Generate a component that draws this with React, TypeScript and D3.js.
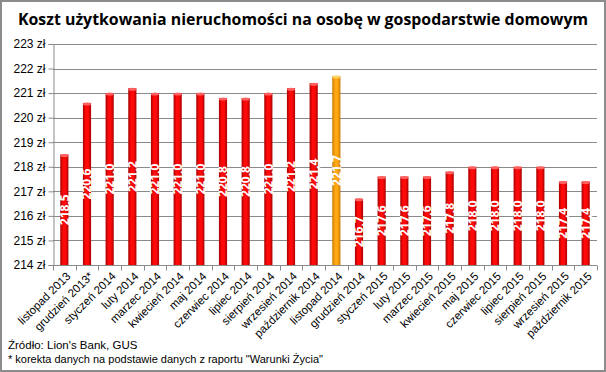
import { useEffect, useRef } from 'react'
import * as d3 from 'd3'

const months = [
  'listopad 2013', 'grudzień 2013*', 'styczeń 2014', 'luty 2014', 'marzec 2014', 'kwiecień 2014',
  'maj 2014', 'czerwiec 2014', 'lipiec 2014', 'sierpień 2014', 'wrzesień 2014', 'październik 2014',
  'listopad 2014', 'grudzień 2014', 'styczeń 2015', 'luty 2015', 'marzec 2015', 'kwiecień 2015',
  'maj 2015', 'czerwiec 2015', 'lipiec 2015', 'sierpień 2015', 'wrzesień 2015', 'październik 2015',
]
const costs = [
  218.5, 220.6, 221.0, 221.2, 221.0, 221.0, 221.0, 220.8, 220.8, 221.0, 221.2, 221.4,
  221.7, 216.7, 217.6, 217.6, 217.6, 217.8, 218.0, 218.0, 218.0, 218.0, 217.4, 217.4,
]
const highlighted = ['listopad 2014']
const yTicks = [214, 215, 216, 217, 218, 219, 220, 221, 222, 223]

const App = () => {
  const svgRef = useRef<SVGSVGElement>(null)

  useEffect(() => {
    const width = 606
    const height = 372
    const left = 53
    const right = 597
    const top = 44
    const bottom = 265

    const svg = d3.select(svgRef.current)
    svg.selectAll('*').remove()
    svg.attr('width', width).attr('height', height)

    const defs = svg.append('defs')
    const grad = (id: string, edge: string, mid: string) => {
      const g = defs.append('linearGradient').attr('id', id).attr('x1', 0).attr('x2', 1).attr('y1', 0).attr('y2', 0)
      g.append('stop').attr('offset', '0%').attr('stop-color', edge)
      g.append('stop').attr('offset', '35%').attr('stop-color', mid)
      g.append('stop').attr('offset', '65%').attr('stop-color', mid)
      g.append('stop').attr('offset', '100%').attr('stop-color', edge)
    }
    grad('redBar', '#a80000', '#ff0a0a')
    grad('orangeBar', '#c87800', '#ffa812')

    svg.append('rect')
      .attr('x', 1).attr('y', 1).attr('width', width - 2).attr('height', height - 2)
      .attr('fill', '#fff').attr('stroke', '#8c8c8c').attr('stroke-width', 2)

    svg.append('text')
      .attr('x', width / 2).attr('y', 25)
      .attr('text-anchor', 'middle')
      .style('font-family', '"Open Sans", sans-serif')
      .style('font-weight', 'bold')
      .style('font-size', '16px')
      .attr('textLength', 570)
      .attr('lengthAdjust', 'spacingAndGlyphs')
      .text('Koszt użytkowania nieruchomości na osobę w gospodarstwie domowym')

    const x = d3.scaleBand<string>().domain(months).range([left, right]).paddingInner(0.64).paddingOuter(0.32)
    const y = d3.scaleLinear().domain([214, 223]).range([bottom, top])

    // siatka
    svg.append('g')
      .selectAll('line')
      .data(yTicks.slice(1))
      .join('line')
      .attr('x1', left).attr('x2', right)
      .attr('y1', d => Math.round(y(d)) + 0.5).attr('y2', d => Math.round(y(d)) + 0.5)
      .attr('stroke', '#8a8a8a')

    const yAxis = svg.append('g')
      .attr('transform', `translate(${left + 0.5},0)`)
      .call(d3.axisLeft(y).tickValues(yTicks).tickSize(5).tickFormat(d => `${d} zł`))
    yAxis.select('.domain').attr('stroke', '#8a8a8a')
    yAxis.selectAll('line').attr('stroke', '#8a8a8a')
    yAxis.selectAll('text')
      .attr('x', -8)
      .attr('fill', '#000')
      .style('font-family', '"Liberation Sans", Arial, sans-serif')
      .style('font-size', '12px')

    const step = x.step()
    const xAxis = svg.append('g').attr('transform', `translate(0,${bottom + 0.5})`)
    xAxis.append('line').attr('x1', left).attr('x2', right).attr('stroke', '#8a8a8a')
    xAxis.selectAll('line.tick')
      .data(d3.range(months.length + 1))
      .join('line')
      .attr('class', 'tick')
      .attr('x1', i => Math.round(left + i * step) + 0.5)
      .attr('x2', i => Math.round(left + i * step) + 0.5)
      .attr('y1', 0).attr('y2', 5)
      .attr('stroke', '#8a8a8a')

    svg.append('g')
      .selectAll('text')
      .data(months)
      .join('text')
      .attr('transform', d => `translate(${(x(d) ?? 0) + x.bandwidth() / 2 + 4},${bottom + 9}) rotate(-45)`)
      .attr('text-anchor', 'end')
      .attr('dy', '0.35em')
      .style('font-family', '"Liberation Sans", Arial, sans-serif')
      .style('font-size', '11.5px')
      .text(d => d)

    const bars = svg.append('g')
    bars.selectAll('rect')
      .data(months)
      .join('rect')
      .attr('x', d => x(d) ?? 0)
      .attr('width', x.bandwidth())
      .attr('y', (d, i) => y(costs[i]))
      .attr('height', (d, i) => bottom - y(costs[i]))
      .attr('fill', d => highlighted.includes(d) ? 'url(#orangeBar)' : 'url(#redBar)')

    bars.selectAll('ellipse')
      .data(months)
      .join('ellipse')
      .attr('cx', d => (x(d) ?? 0) + x.bandwidth() / 2)
      .attr('cy', (d, i) => y(costs[i]) + 1)
      .attr('rx', x.bandwidth() / 2)
      .attr('ry', 1.5)
      .attr('fill', d => highlighted.includes(d) ? '#ffd060' : '#ff6060')

    svg.append('g')
      .selectAll('text')
      .data(months)
      .join('text')
      .attr('transform', (d, i) => `translate(${(x(d) ?? 0) + x.bandwidth() / 2},${(y(costs[i]) + bottom) / 2}) rotate(-90)`)
      .attr('text-anchor', 'middle')
      .attr('dy', '0.35em')
      .attr('fill', '#fff')
      .style('font-family', '"Liberation Sans Narrow", "Open Sans", sans-serif')
      .style('font-weight', 'bold')
      .style('font-size', '12px')
      .text((d, i) => d3.format('.1f')(costs[i]).replace('.', ','))

    svg.append('text')
      .attr('x', 8).attr('y', 349)
      .style('font-family', '"Liberation Sans", Arial, sans-serif')
      .style('font-size', '11.5px')
      .text('Źródło: Lion\'s Bank, GUS')
    svg.append('text')
      .attr('x', 8).attr('y', 363)
      .style('font-family', '"Liberation Sans", Arial, sans-serif')
      .style('font-size', '11px')
      .text('* korekta danych na podstawie danych z raportu "Warunki Życia"')
  }, [])

  return (
    <div style={{ position: 'absolute', left: 0, top: 0 }}>
      <svg ref={svgRef}></svg>
    </div>
  )
}

export default App
